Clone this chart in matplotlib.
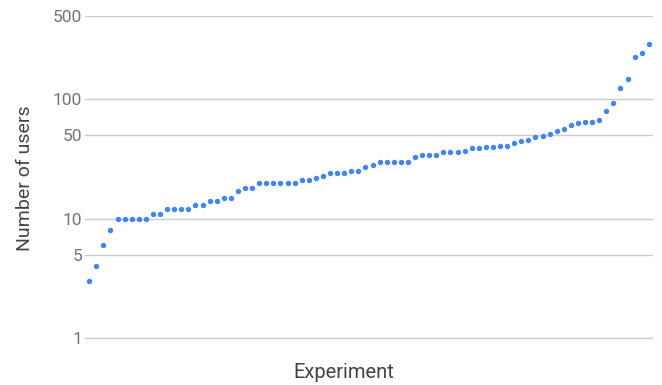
import matplotlib
matplotlib.use("Agg")
import matplotlib.pyplot as plt
from matplotlib.ticker import FixedLocator, NullLocator

# Users per experiment, sorted ascending
users = [
    3, 4, 6, 8, 10, 10, 10, 10, 10, 11,
    11, 12, 12, 12, 12, 13, 13, 14, 14, 15,
    15, 17, 18, 18, 20, 20, 20, 20, 20, 20,
    21, 21, 22, 23, 24, 24, 24, 25, 25, 27,
    28, 30, 30, 30, 30, 30, 33, 34, 34, 34,
    36, 36, 36.5, 37, 39, 39, 40, 40, 41, 41,
    43, 45, 46, 48, 49, 51, 54, 57, 61, 63,
    65, 65, 67, 80, 93, 124, 147, 228, 244, 292,
]
experiments = list(range(len(users)))

y_ticks = [1, 5, 10, 50, 100, 500]
y_tick_labels = ["1", "5", "10", "50", "100", "500"]

plt.rcParams["font.family"] = ["Roboto", "DejaVu Sans"]

fig = plt.figure(figsize=(6.62, 3.85), dpi=100)
ax = fig.add_axes([85 / 662, 1 - 352 / 385, (653 - 85) / 662, (352 - 16) / 385])

ax.set_yscale("log")
ax.set_ylim(0.764, 500)
ax.set_xlim(-0.6, len(users) - 1 + 0.6)

ax.yaxis.set_major_locator(FixedLocator(y_ticks))
ax.yaxis.set_minor_locator(NullLocator())
ax.set_yticklabels(y_tick_labels)
ax.set_xticks([])

ax.grid(axis="y", color="#cccccc", linewidth=1.0)
ax.set_axisbelow(True)
for spine in ax.spines.values():
    spine.set_visible(False)

ax.tick_params(axis="y", length=0, pad=2, labelsize=12.5, labelcolor="#757575")

ax.plot(experiments, users, linestyle="none", marker="o", markersize=3.9,
        color="#4285F4", markeredgewidth=0, zorder=3)

fig.text(25 / 662, 1 - 178 / 385, "Number of users", rotation=90,
         ha="center", va="center", fontsize=14, color="#444444")
fig.text(344 / 662, 1 - 372.5 / 385, "Experiment",
         ha="center", va="center", fontsize=14.5, color="#444444")

fig.savefig("out.png", dpi=100)
